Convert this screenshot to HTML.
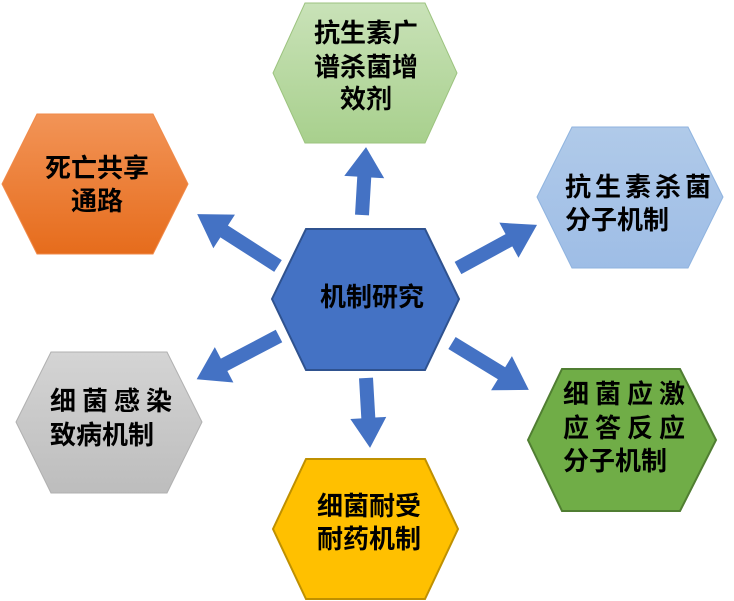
<!DOCTYPE html>
<html><head><meta charset="utf-8"><style>
html,body{margin:0;padding:0;background:#fff;width:734px;height:601px;overflow:hidden}
svg text{font-family:"Liberation Sans","Noto Sans CJK SC","WenQuanYi Zen Hei",sans-serif;font-weight:bold;font-size:26px;fill:#000}
</style></head><body>
<svg width="734" height="601" viewBox="0 0 734 601" xmlns="http://www.w3.org/2000/svg">
<defs>
<linearGradient id="gG" x1="0" y1="0" x2="0" y2="1"><stop offset="0" stop-color="#c9e2b8"/><stop offset="1" stop-color="#a8d08d"/></linearGradient>
<linearGradient id="gO" x1="0" y1="0" x2="0" y2="1"><stop offset="0" stop-color="#f29457"/><stop offset="1" stop-color="#e66c1c"/></linearGradient>
<linearGradient id="gB" x1="0" y1="0" x2="0" y2="1"><stop offset="0" stop-color="#b0cae9"/><stop offset="1" stop-color="#9ebde6"/></linearGradient>
<linearGradient id="gY" x1="0" y1="0" x2="0" y2="1"><stop offset="0" stop-color="#d4d4d4"/><stop offset="1" stop-color="#bdbdbd"/></linearGradient>
</defs>
<!-- hexagons -->
<polygon points="305,3 425,3 457,73 425,143 305,143 273,73" fill="url(#gG)" stroke="#9cc37f" stroke-width="1"/>
<polygon points="37,114 153,114 188,184 153,254 37,254 2,184" fill="url(#gO)" stroke="#f08a4a" stroke-width="1"/>
<polygon points="572,127 688,127 723,197 688,268 572,268 537,197" fill="url(#gB)" stroke="#8fb3df" stroke-width="1"/>
<polygon points="562,369 680,369 716,440 680,511 562,511 528,440" fill="#70ad47" stroke="#507e32" stroke-width="2"/>
<polygon points="51,352 167,352 202,422 167,493 51,493 16,422" fill="url(#gY)" stroke="#b0b0b0" stroke-width="1"/>
<polygon points="306,459 425,459 458,529 425,599 306,599 273,529" fill="#ffc000" stroke="#bf9000" stroke-width="2"/>
<polygon points="306,229 425,229 459,299 425,370 306,370 272,299" fill="#4472c4" stroke="#2f528f" stroke-width="2"/>
<!-- arrows -->
<g fill="#4472c4">
<polygon transform="translate(362,215) rotate(-86.6)" points="0,-7 38,-7 38,-20 68,0 38,20 38,7 0,7"/>
<polygon transform="translate(458,268) rotate(-28.6)" points="0,-7 58,-7 58,-20 90,0 58,20 58,7 0,7"/>
<polygon transform="translate(452,343) rotate(31.4)" points="0,-7 58,-7 58,-20 90,0 58,20 58,7 0,7"/>
<polygon transform="translate(366,378) rotate(86.7)" points="0,-7 40,-7 40,-18 70,0 40,18 40,7 0,7"/>
<polygon transform="translate(279,336) rotate(152.3)" points="0,-7 62,-7 62,-20 93,0 62,20 62,7 0,7"/>
<polygon transform="translate(278,266) rotate(-147.3)" points="0,-7 64,-7 64,-20 96,0 64,20 64,7 0,7"/>
</g>
<!-- text -->
<text x="372" y="306" text-anchor="middle" font-size="25">机制研究</text>
<text x="366" y="42" text-anchor="middle">抗生素广</text>
<text x="366" y="76" text-anchor="middle">谱杀菌增</text>
<text x="366" y="108" text-anchor="middle">效剂</text>
<text x="97" y="177" text-anchor="middle">死亡共享</text>
<text x="97" y="210" text-anchor="middle">通路</text>
<text x="565" y="196" letter-spacing="4">抗生素杀菌</text>
<text x="565" y="229">分子机制</text>
<text x="563" y="403" letter-spacing="6">细菌应激</text>
<text x="563" y="437" letter-spacing="6">应答反应</text>
<text x="563" y="470">分子机制</text>
<text x="50" y="410" letter-spacing="6">细菌感染</text>
<text x="50" y="444">致病机制</text>
<text x="369" y="515" text-anchor="middle">细菌耐受</text>
<text x="369" y="548" text-anchor="middle">耐药机制</text>
</svg>
</body></html>
